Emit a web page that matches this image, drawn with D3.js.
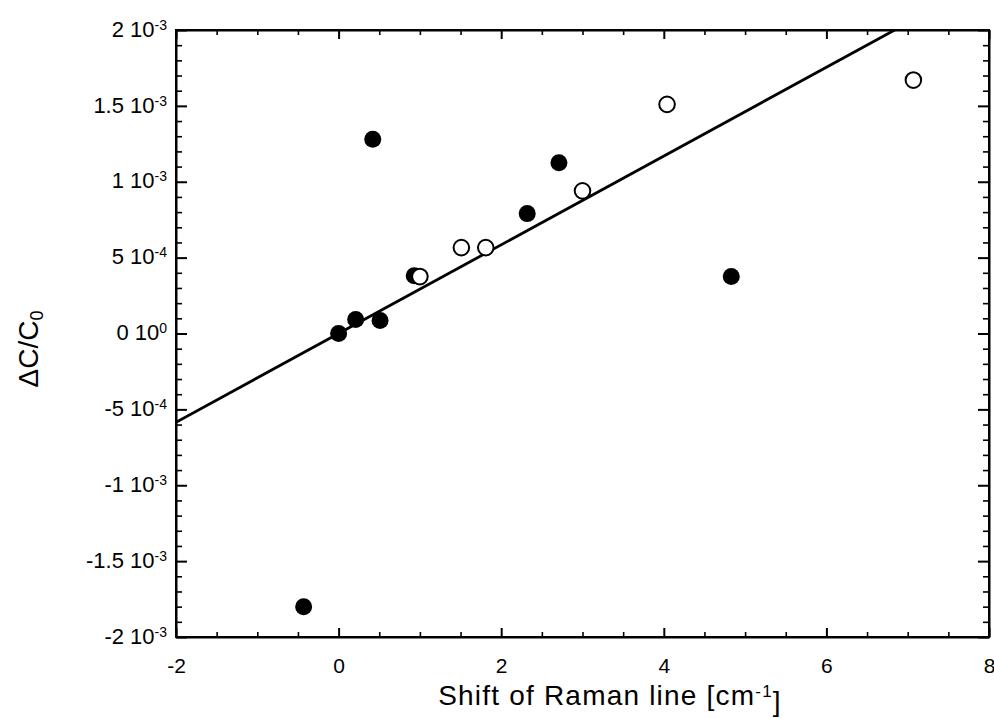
<!DOCTYPE html>
<html>
<head>
<meta charset="utf-8">
<script src="https://cdn.jsdelivr.net/npm/d3@7"></script>
<style>
  body { margin: 0; background: #fff; }
  svg text { font-family: "Liberation Sans", Arial, Helvetica, sans-serif; fill: #000; }
</style>
</head>
<body>
<div id="chart"></div>
<script>
// Data
const filledX = [-0.43, 0.0, 0.21, 0.51, 0.42, 0.93, 2.32, 2.71, 4.83];
const filledY = [-1.80e-3, 0.0, 0.92e-4, 0.86e-4, 1.28e-3, 3.8e-4, 7.9e-4, 1.125e-3, 3.75e-4];
const openX = [1.0, 1.51, 1.81, 3.0, 4.04, 7.07];
const openY = [3.75e-4, 5.66e-4, 5.66e-4, 9.4e-4, 1.51e-3, 1.67e-3];
const fitX = [-2, 6.84];
const fitY = [-5.85e-4, 2.0e-3];

const xTicks = [-2, 0, 2, 4, 6, 8];
const yTicks = [2e-3, 1.5e-3, 1e-3, 5e-4, 0, -5e-4, -1e-3, -1.5e-3, -2e-3];
const yMantissa = ["2", "1.5", "1", "5", "0", "-5", "-1", "-1.5", "-2"];
const yExponent = ["-3", "-3", "-3", "-4", "0", "-4", "-3", "-3", "-3"];

const width = 994;
const height = 718;
const margin = { top: 30, right: 5, bottom: 81, left: 176 };
const chartWidth = width - margin.left - margin.right;
const chartHeight = height - margin.top - margin.bottom;

const svg = d3.select("#chart")
    .append("svg")
    .attr("width", width)
    .attr("height", height);

const chart = svg.append("g")
    .attr("transform", `translate(${margin.left}, ${margin.top})`);

const xScale = d3.scaleLinear().domain([-2, 8]).range([0, chartWidth]);
const yScale = d3.scaleLinear().domain([-2e-3, 2e-3]).range([chartHeight, 0]);

// minor ticks
const xMinor = d3.range(-2, 8.01, 0.5).filter(v => Math.abs(v % 2) > 1e-9);
const yMinor = d3.range(-20, 21, 1).filter(v => v % 5 !== 0).map(v => v * 1e-4);

function minorAxis(axisFn, scale, values, size, transform) {
    chart.append("g")
        .attr("transform", transform)
        .call(axisFn(scale).tickValues(values).tickSize(size).tickFormat(""))
        .call(g => g.select(".domain").remove())
        .selectAll("line").attr("stroke-width", 1.6);
}

minorAxis(d3.axisBottom, xScale, xMinor, -5, `translate(0, ${chartHeight})`);
minorAxis(d3.axisTop, xScale, xMinor, -5, "translate(0,0)");
minorAxis(d3.axisLeft, yScale, yMinor, -6, "translate(0,0)");
minorAxis(d3.axisRight, yScale, yMinor, -6, `translate(${chartWidth},0)`);

// major axes
const xAxis = d3.axisBottom(xScale).tickValues(xTicks).tickSize(-9).tickPadding(21)
    .tickSizeOuter(0).tickFormat(d => String(d));
chart.append("g")
    .attr("transform", `translate(0, ${chartHeight})`)
    .call(xAxis)
    .call(g => g.selectAll("text").style("font-size", "21px"))
    .call(g => g.selectAll("line, path").attr("stroke-width", 2));

chart.append("g")
    .call(d3.axisTop(xScale).tickValues(xTicks).tickSize(-9).tickSizeOuter(0).tickFormat(""))
    .call(g => g.selectAll("line, path").attr("stroke-width", 2));

const yAxis = d3.axisLeft(yScale).tickValues(yTicks).tickSize(-11).tickPadding(9).tickSizeOuter(0);
chart.append("g")
    .call(yAxis)
    .call(g => g.selectAll("line, path").attr("stroke-width", 2))
    .selectAll(".tick text")
    .style("font-size", "22px")
    .attr("dy", "0.28em")
    .text(null)
    .each(function(d, i) {
        const t = d3.select(this);
        t.append("tspan").text(yMantissa[i] + " 10");
        t.append("tspan")
            .attr("dy", "-0.5em")
            .style("font-size", "14px")
            .text(yExponent[i]);
    });

chart.append("g")
    .attr("transform", `translate(${chartWidth},0)`)
    .call(d3.axisRight(yScale).tickValues(yTicks).tickSize(-11).tickSizeOuter(0).tickFormat(""))
    .call(g => g.selectAll("line, path").attr("stroke-width", 2));

// frame
chart.append("rect")
    .attr("width", chartWidth)
    .attr("height", chartHeight)
    .attr("fill", "none")
    .attr("stroke", "#000")
    .attr("stroke-width", 2);

// fit line
svg.append("clipPath").attr("id", "clip")
    .append("rect").attr("width", chartWidth).attr("height", chartHeight);

const line = d3.line()
    .x(d => xScale(d[0]))
    .y(d => yScale(d[1]));

chart.append("path")
    .datum(fitX.map((x, i) => [x, fitY[i]]))
    .attr("clip-path", "url(#clip)")
    .attr("fill", "none")
    .attr("stroke", "#000")
    .attr("stroke-width", 2.8)
    .attr("d", line);

// points
chart.selectAll("circle.filled")
    .data(filledX.map((x, i) => [x, filledY[i]]))
    .enter()
    .append("circle")
    .attr("class", "filled")
    .attr("cx", d => xScale(d[0]))
    .attr("cy", d => yScale(d[1]))
    .attr("r", 8.5)
    .attr("fill", "#000");

chart.selectAll("circle.open")
    .data(openX.map((x, i) => [x, openY[i]]))
    .enter()
    .append("circle")
    .attr("class", "open")
    .attr("cx", d => xScale(d[0]))
    .attr("cy", d => yScale(d[1]))
    .attr("r", 7.8)
    .attr("fill", "#fff")
    .attr("stroke", "#000")
    .attr("stroke-width", 2);

// axis titles
const xLabel = svg.append("text")
    .attr("x", 610)
    .attr("y", 705)
    .attr("text-anchor", "middle")
    .style("font-size", "28px")
    .style("letter-spacing", "1.2px");
xLabel.append("tspan").text("Shift of Raman line [cm");
xLabel.append("tspan").attr("dy", "-0.5em").style("font-size", "17px").text("-1");
xLabel.append("tspan").attr("dy", "0.5em").text("]");

const yLabel = svg.append("text")
    .attr("transform", `translate(38, 349) rotate(-90)`)
    .attr("text-anchor", "middle")
    .style("font-size", "28px");
yLabel.append("tspan").text("ΔC/C");
yLabel.append("tspan").attr("dy", "0.3em").style("font-size", "18px").text("0");
</script>
</body>
</html>
